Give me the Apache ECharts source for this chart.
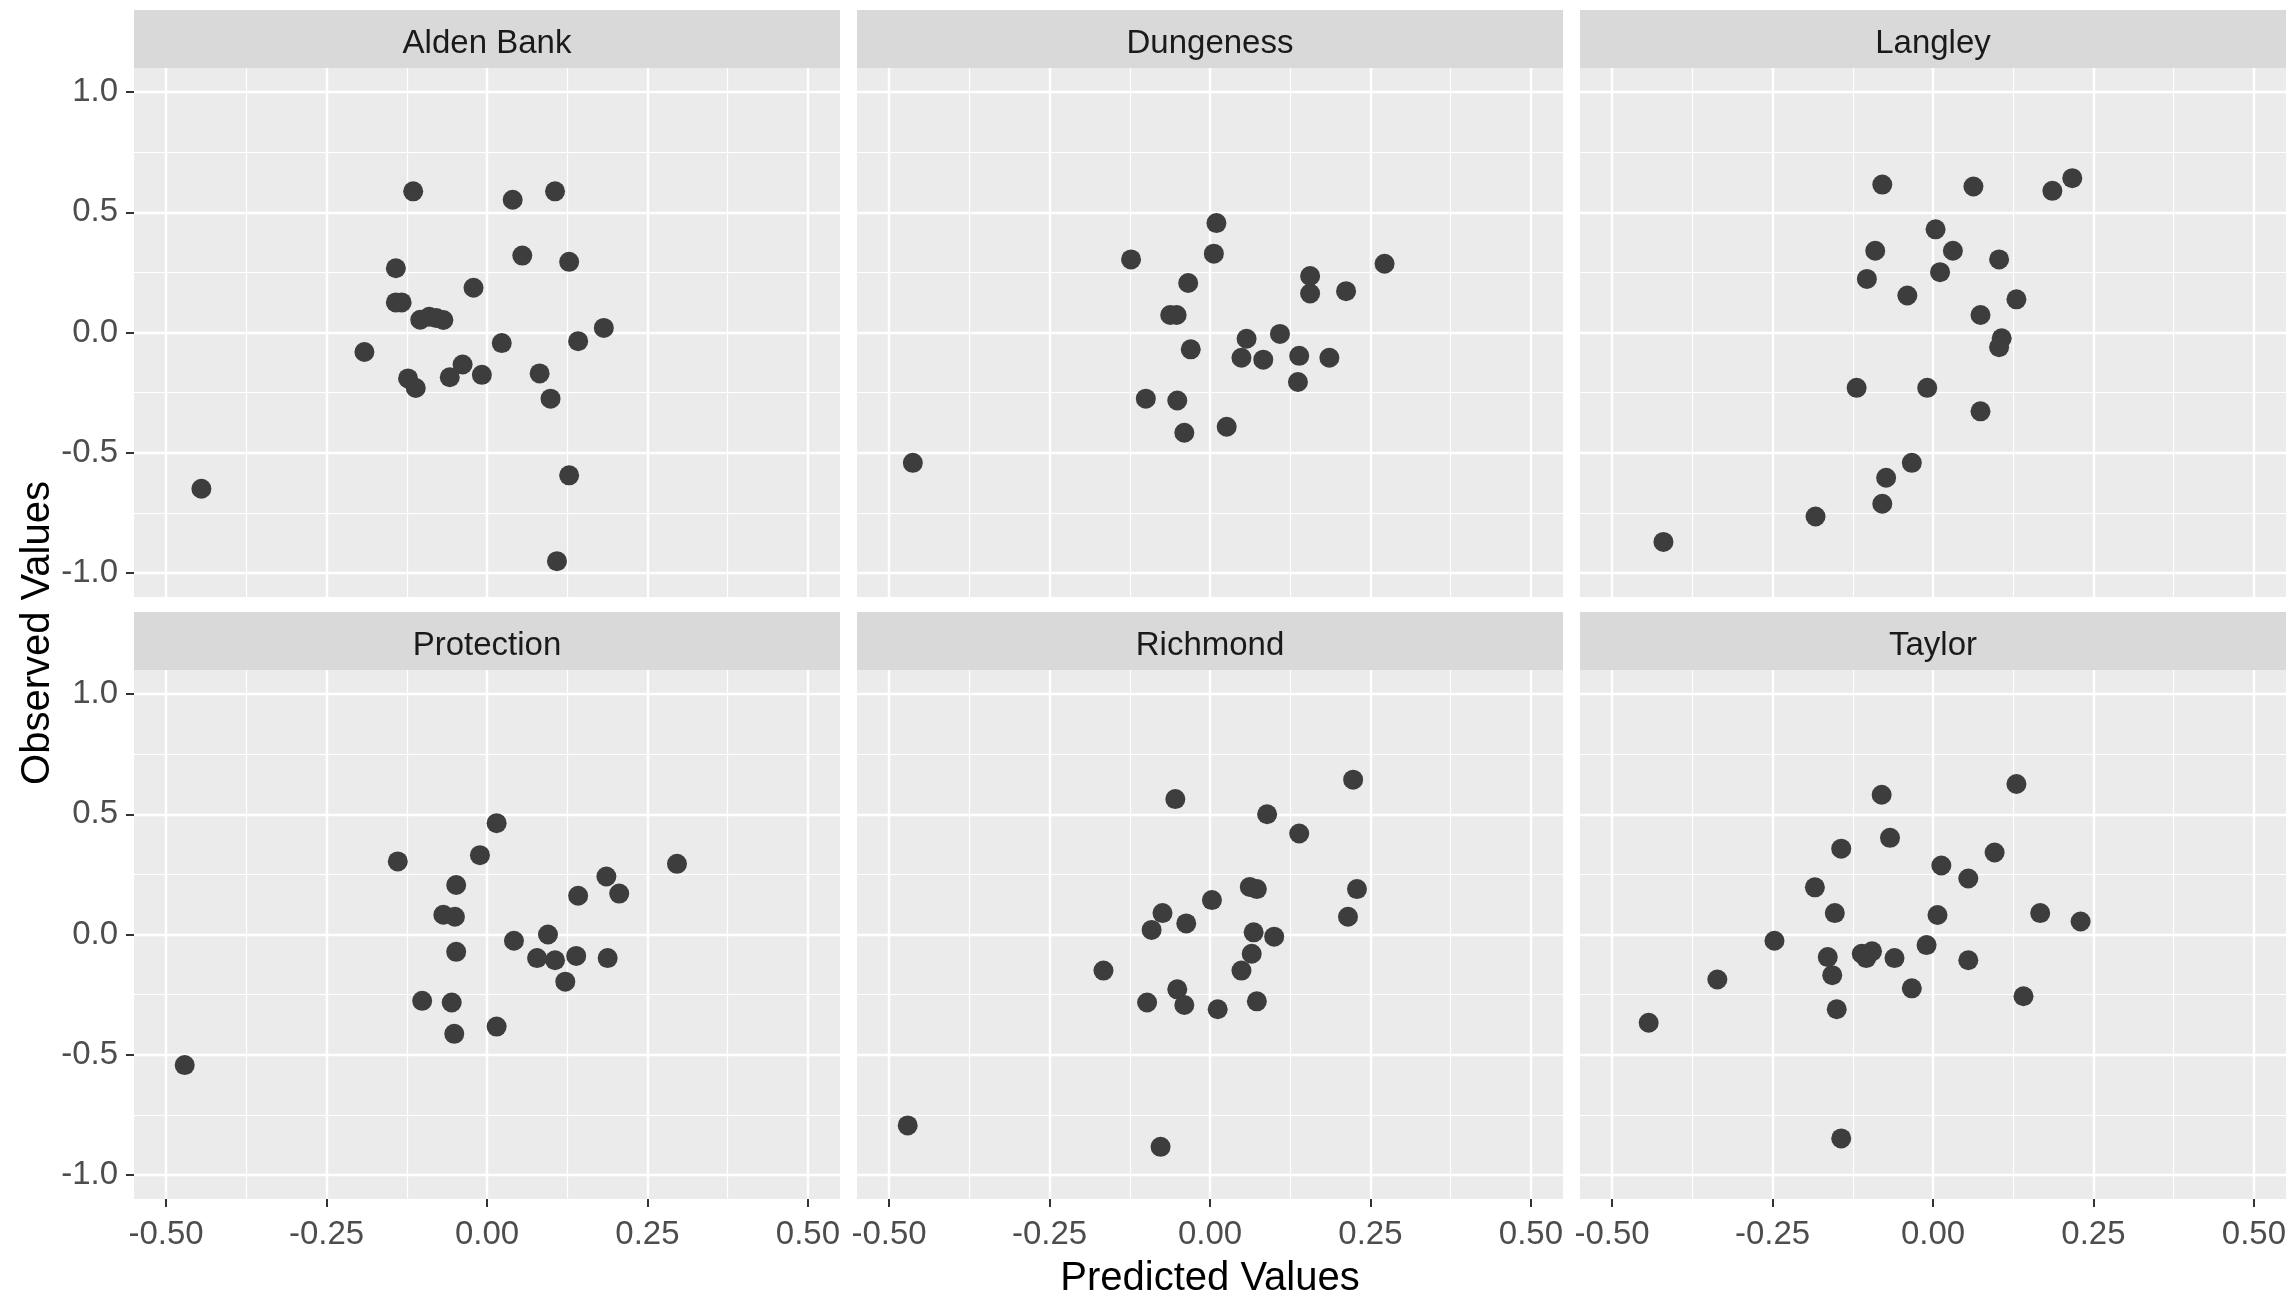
<!DOCTYPE html>
<html>
<head>
<meta charset="utf-8">
<title>Observed vs Predicted Values</title>
<script src="https://cdn.jsdelivr.net/npm/echarts@6/dist/echarts.min.js"></script>
<style>
  html, body { margin: 0; padding: 0; background: #fff; }
  #chart { width: 2293px; height: 1297px; }
</style>
</head>
<body>
<div id="chart"></div>
<script>
  // panel names, row by row
  var facets = ['Alden Bank', 'Dungeness', 'Langley', 'Protection', 'Richmond', 'Taylor']

  // [predicted, observed] per site
  var aldenBank = [
    [-0.445, -0.650], [-0.191, -0.081], [-0.142, 0.267], [-0.142, 0.125], [-0.133, 0.125],
    [-0.115, 0.587], [-0.123, -0.191], [-0.111, -0.231], [-0.104, 0.053], [-0.090, 0.065],
    [-0.079, 0.060], [-0.068, 0.052], [-0.058, -0.186], [-0.038, -0.133], [-0.021, 0.186],
    [-0.008, -0.176], [0.023, -0.044], [0.040, 0.552], [0.055, 0.320], [0.082, -0.170],
    [0.099, -0.275], [0.106, 0.587], [0.128, 0.294], [0.128, -0.594], [0.109, -0.951],
    [0.142, -0.036], [0.182, 0.019]
  ]
  var dungeness = [
    [-0.463, -0.542], [-0.123, 0.304], [0.010, 0.455], [0.006, 0.328], [-0.034, 0.206],
    [-0.062, 0.073], [-0.052, 0.073], [-0.030, -0.070], [0.156, 0.235], [0.156, 0.162],
    [0.212, 0.172], [0.272, 0.286], [0.057, -0.026], [0.109, -0.006], [0.049, -0.105],
    [0.083, -0.113], [0.139, -0.097], [0.186, -0.105], [0.137, -0.206], [-0.100, -0.275],
    [-0.051, -0.283], [-0.040, -0.417], [0.026, -0.392]
  ]
  var langley = [
    [-0.420, -0.871], [-0.183, -0.765], [-0.079, -0.712], [-0.073, -0.604], [-0.033, -0.542],
    [-0.119, -0.230], [-0.009, -0.230], [0.074, -0.328], [-0.079, 0.615], [0.063, 0.607],
    [0.186, 0.589], [0.217, 0.642], [0.004, 0.429], [-0.090, 0.340], [0.031, 0.340],
    [0.103, 0.304], [-0.103, 0.223], [0.011, 0.251], [-0.040, 0.154], [0.130, 0.138],
    [0.074, 0.073], [0.107, -0.024], [0.103, -0.061]
  ]
  var protection = [
    [-0.471, -0.543], [-0.139, 0.304], [-0.011, 0.330], [0.015, 0.463], [-0.048, 0.206],
    [-0.068, 0.082], [-0.050, 0.074], [-0.048, -0.072], [-0.101, -0.276], [-0.055, -0.283],
    [-0.051, -0.413], [0.015, -0.383], [0.042, -0.026], [0.095, 0.000], [0.078, -0.098],
    [0.106, -0.107], [0.139, -0.089], [0.122, -0.196], [0.188, -0.098], [0.142, 0.161],
    [0.186, 0.241], [0.206, 0.170], [0.296, 0.294]
  ]
  var richmond = [
    [-0.471, -0.794], [-0.077, -0.883], [-0.166, -0.150], [-0.054, 0.563], [0.223, 0.644],
    [0.089, 0.500], [0.139, 0.420], [0.062, 0.198], [0.073, 0.189], [0.229, 0.189],
    [0.215, 0.074], [0.003, 0.143], [-0.074, 0.089], [-0.037, 0.046], [-0.091, 0.019],
    [0.068, 0.009], [0.100, -0.009], [0.065, -0.080], [0.049, -0.150], [-0.051, -0.228],
    [-0.098, -0.283], [-0.040, -0.293], [0.012, -0.311], [0.073, -0.278]
  ]
  var taylor = [
    [-0.443, -0.367], [-0.336, -0.187], [-0.247, -0.026], [-0.184, 0.196], [-0.143, 0.357],
    [-0.153, 0.089], [-0.164, -0.094], [-0.157, -0.169], [-0.150, -0.311], [-0.143, -0.848],
    [-0.080, 0.581], [-0.067, 0.402], [-0.111, -0.080], [-0.104, -0.098], [-0.095, -0.070],
    [-0.060, -0.098], [-0.033, -0.224], [-0.010, -0.044], [0.007, 0.081], [0.013, 0.287],
    [0.055, 0.233], [0.055, -0.107], [0.096, 0.341], [0.130, 0.626], [0.141, -0.257],
    [0.167, 0.089], [0.230, 0.054]
  ]
  var siteData = [aldenBank, dungeness, langley, protection, richmond, taylor]

  // axis ticks
  var xTicks = [-0.5, -0.25, 0, 0.25, 0.5]
  var xMinorTicks = [-0.375, -0.125, 0.125, 0.375]
  var yTicks = [-1, -0.5, 0, 0.5, 1]
  var yMinorTicks = [-0.75, -0.25, 0.25, 0.75]
  var xRange = [-0.55, 0.55]
  var yRange = [-1.1, 1.1]

  // layout (px)
  var colLeft = [134, 857, 1580]
  var panelW = 706
  var stripTop = [10, 612]
  var stripH = 58
  var panelH = 529
  var font = 'Liberation Sans, Arial, sans-serif'

  var grids = []
  var xAxes = []
  var yAxes = []
  var series = []
  var graphics = []

  function axisOf (dim, i, minor) {
    var isX = dim === 'x'
    var vals = isX ? (minor ? xMinorTicks : xTicks) : (minor ? yMinorTicks : yTicks)
    var range = isX ? xRange : yRange
    var labelled = !minor && (isX ? i >= 3 : i % 3 === 0)
    return {
      type: 'value',
      gridIndex: i,
      min: range[0],
      max: range[1],
      position: isX ? 'bottom' : 'left',
      axisLine: { show: false, onZero: false },
      axisTick: {
        show: labelled,
        customValues: vals,
        length: 8,
        lineStyle: { color: '#333333', width: 2 }
      },
      axisLabel: {
        show: labelled,
        customValues: vals,
        margin: isX ? 19 : 16,
        color: '#4d4d4d',
        fontSize: 33,
        fontFamily: font,
        formatter: function (v) { return v.toFixed(isX ? 2 : 1) }
      },
      splitLine: { show: true, lineStyle: { color: '#ffffff', width: minor ? 1.2 : 2.4 } },
      minorTick: { show: false },
      minorSplitLine: { show: false }
    }
  }

  facets.forEach(function (name, i) {
    var row = Math.floor(i / 3)
    var col = i % 3
    var top = stripTop[row] + stripH
    grids.push({
      left: colLeft[col],
      top: top,
      width: panelW,
      height: panelH,
      show: true,
      backgroundColor: '#ebebeb',
      borderWidth: 0,
      containLabel: false,
      outerBoundsMode: 'none'
    })
    // minor grid lines first, then major
    xAxes.push(axisOf('x', i, true))
    yAxes.push(axisOf('y', i, true))
    xAxes.push(axisOf('x', i, false))
    yAxes.push(axisOf('y', i, false))
    series.push({
      name: name,
      type: 'scatter',
      xAxisIndex: i * 2 + 1,
      yAxisIndex: i * 2 + 1,
      data: siteData[i],
      symbol: 'circle',
      symbolSize: 20,
      itemStyle: { color: '#3d3d3d', opacity: 1 },
      z: 5
    })
    // facet strip
    graphics.push({
      type: 'rect',
      silent: true,
      shape: { x: colLeft[col], y: stripTop[row], width: panelW, height: stripH },
      style: { fill: '#d9d9d9' }
    })
    graphics.push({
      type: 'text',
      silent: true,
      x: colLeft[col] + panelW / 2,
      y: stripTop[row] + stripH / 2 + 5,
      style: {
        text: name,
        fill: '#1a1a1a',
        fontSize: 33,
        fontFamily: font,
        align: 'center',
        verticalAlign: 'middle'
      }
    })
  })

  // axis titles
  graphics.push({
    type: 'text',
    silent: true,
    x: 38,
    y: 633,
    rotation: Math.PI / 2,
    style: {
      text: 'Observed Values',
      fill: '#000000',
      fontSize: 40,
      fontFamily: font,
      align: 'center',
      verticalAlign: 'middle'
    }
  })
  graphics.push({
    type: 'text',
    silent: true,
    x: 1210,
    y: 1279,
    style: {
      text: 'Predicted Values',
      fill: '#000000',
      fontSize: 40,
      fontFamily: font,
      align: 'center',
      verticalAlign: 'middle'
    }
  })

  var myChart = echarts.init(document.getElementById('chart'))
  myChart.setOption({
    animation: false,
    backgroundColor: '#ffffff',
    grid: grids,
    xAxis: xAxes,
    yAxis: yAxes,
    series: series,
    graphic: graphics
  })
</script>
</body>
</html>
